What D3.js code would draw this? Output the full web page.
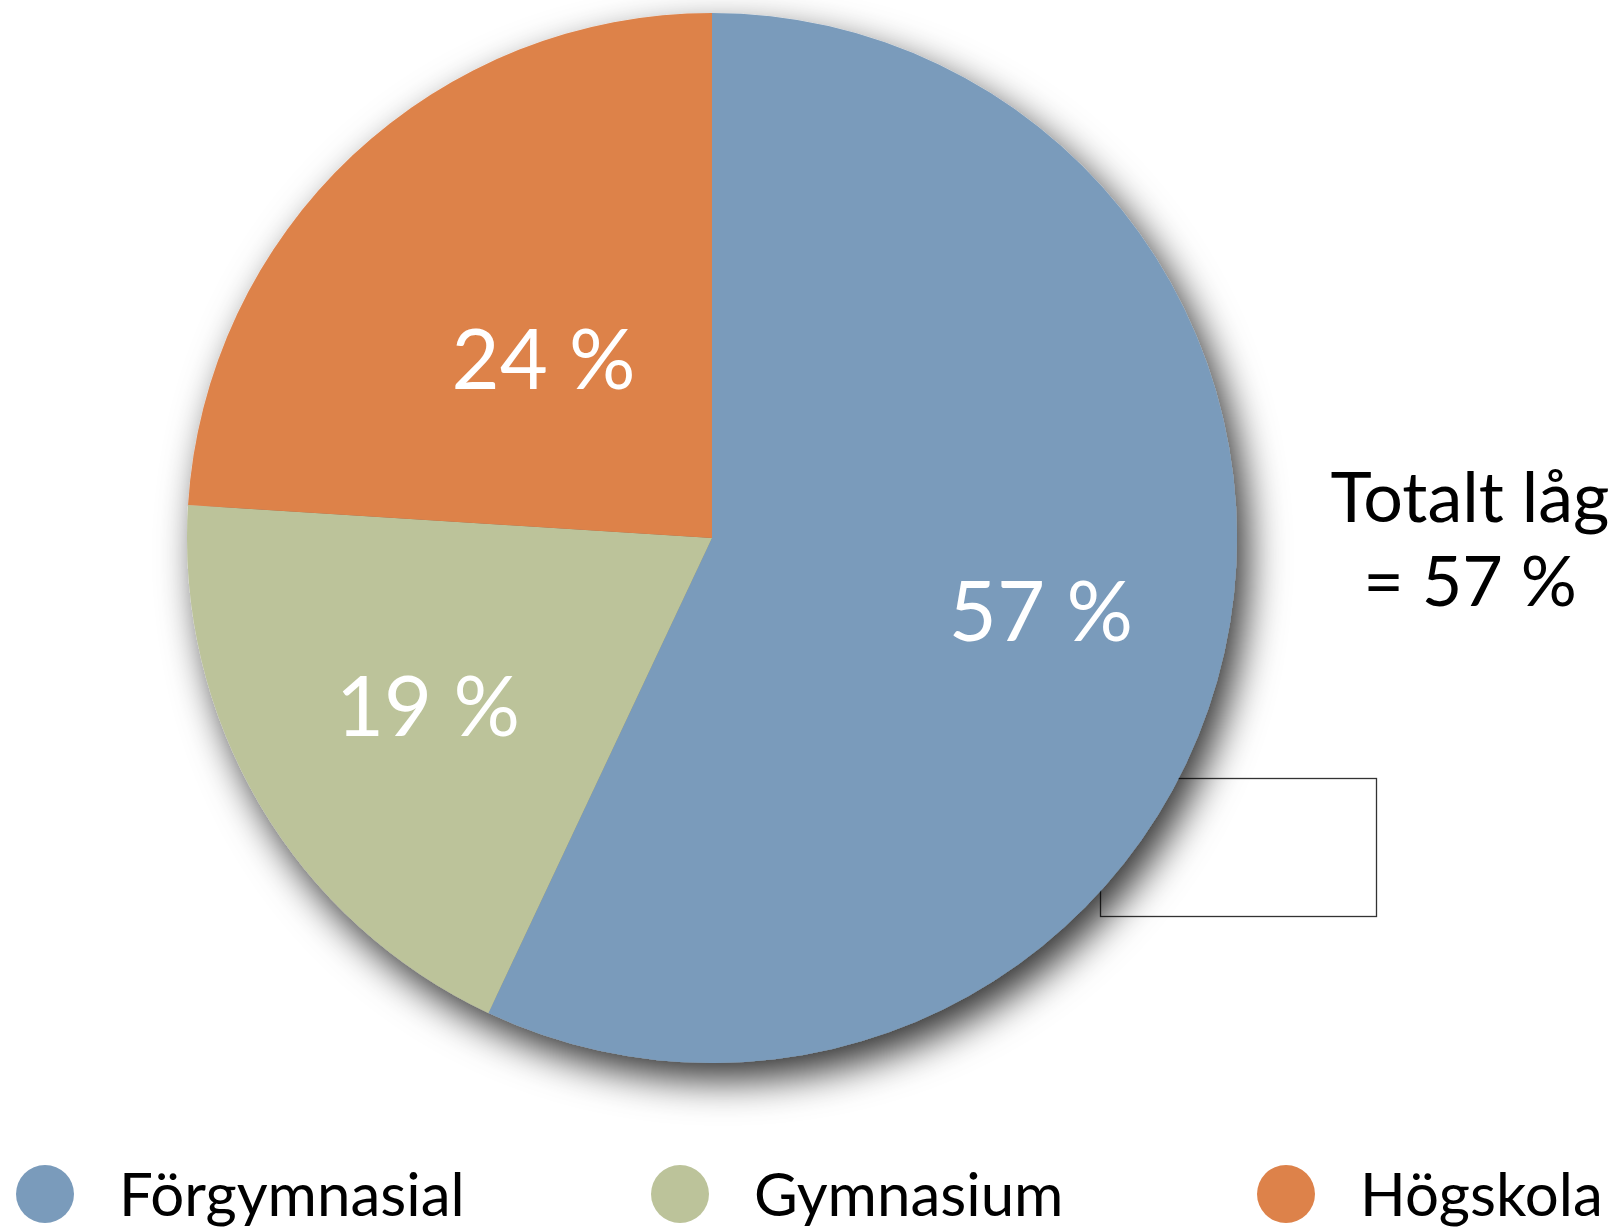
<!DOCTYPE html>
<html>
<head>
<meta charset="utf-8">
<script src="https://cdn.jsdelivr.net/npm/d3@7"></script>
<style>
  body { margin: 0; background: #fff; }
  svg { display: block; font-family: Lato, "Open Sans", sans-serif; }
</style>
</head>
<body>
<svg id="chart" width="1616" height="1232"></svg>
<script>
// data
var categories = ["Förgymnasial", "Gymnasium", "Högskola"];
var values = [57, 19, 24];
var colors = ["#7a9bbb", "#bcc39a", "#dd824a"];
var totalLines = ["Totalt låg", "= 57 %"];

// layout
var cx = 712, cy = 538, radius = 525;
var labelR = [337, 330, 246];
var legendX = [45, 680, 1286];

var svg = d3.select("#chart");

var defs = svg.append("defs");
var filter = defs.append("filter")
    .attr("id", "shadow")
    .attr("x", "-20%").attr("y", "-20%")
    .attr("width", "140%").attr("height", "140%");
filter.append("feDropShadow")
    .attr("dx", 11)
    .attr("dy", 17)
    .attr("stdDeviation", 19)
    .attr("flood-color", "#000")
    .attr("flood-opacity", 0.8);

// empty box behind the pie
svg.append("rect")
    .attr("x", 1100.5)
    .attr("y", 778.5)
    .attr("width", 276)
    .attr("height", 138)
    .attr("fill", "none")
    .attr("stroke", "#333")
    .attr("stroke-width", 1.3);

var pie = d3.pie().sort(null).value(function (d) { return d; });
var arcs = pie(values);
var arc = d3.arc().innerRadius(0).outerRadius(radius);

var g = svg.append("g").attr("transform", "translate(" + cx + "," + cy + ")");

var slices = g.append("g").attr("filter", "url(#shadow)");
slices.selectAll("path")
    .data(arcs)
    .enter().append("path")
    .attr("d", arc)
    .attr("fill", function (d, i) { return colors[i]; });

g.selectAll(".lbl")
    .data(arcs)
    .enter().append("text")
    .attr("class", "lbl")
    .attr("transform", function (d, i) {
        var c = d3.arc().innerRadius(0).outerRadius(labelR[i] * 2).centroid(d);
        return "translate(" + c[0] + "," + c[1] + ")";
    })
    .attr("dy", "0.36em")
    .attr("text-anchor", "middle")
    .attr("fill", "#fff")
    .style("font-size", "83px")
    .text(function (d) { return d.data + " %"; });

// total annotation
svg.append("text")
    .attr("x", 1470)
    .attr("text-anchor", "middle")
    .style("font-size", "70px")
    .attr("fill", "#000")
    .selectAll("tspan")
    .data(totalLines)
    .enter().append("tspan")
    .attr("x", 1470)
    .attr("y", function (d, i) { return i === 0 ? 522 : 606; })
    .text(function (d) { return d; });

// legend
var legend = svg.selectAll(".legend")
    .data(categories)
    .enter().append("g")
    .attr("class", "legend")
    .attr("transform", function (d, i) { return "translate(" + legendX[i] + ",1194)"; });

legend.append("circle")
    .attr("r", 29)
    .attr("fill", function (d, i) { return colors[i]; });

legend.append("text")
    .attr("x", 74)
    .attr("y", 22)
    .style("font-size", "60px")
    .attr("fill", "#000")
    .text(function (d) { return d; });
</script>
</body>
</html>
